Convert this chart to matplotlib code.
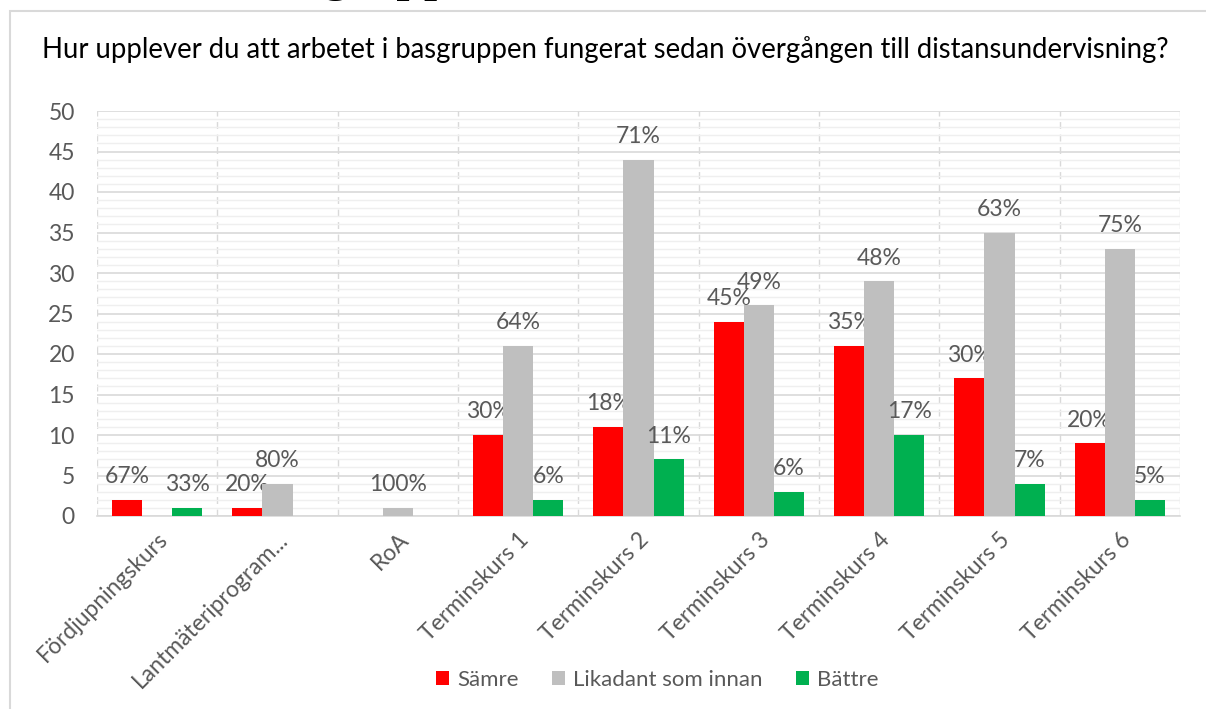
import numpy as np
import matplotlib.pyplot as plt
from matplotlib.patches import Rectangle

categories = ['Fördjupningskurs', 'Lantmäteriprogram...', 'RoA', 'Terminskurs 1',
              'Terminskurs 2', 'Terminskurs 3', 'Terminskurs 4', 'Terminskurs 5',
              'Terminskurs 6']
samre = [2, 1, 0, 10, 11, 24, 21, 17, 9]
likadant = [0, 4, 1, 21, 44, 26, 29, 35, 33]
battre = [1, 0, 0, 2, 7, 3, 10, 4, 2]
series_names = ['Sämre', 'Likadant som innan', 'Bättre']
colors = ['#FF0000', '#BFBFBF', '#00B050']

title = 'Hur upplever du att arbetet i basgruppen fungerat sedan övergången till distansundervisning?'

plt.rcParams['font.family'] = ['Lato', 'DejaVu Sans']
txt = '#595959'

W, H = 1206, 709
fig = plt.figure(figsize=(W / 100, H / 100), dpi=100)
ax = fig.add_axes([97 / W, 1 - 516 / H, (1180 - 97) / W, (516 - 111) / H])

# document heading, mostly cut off above the chart frame
hdr = fig.text(0, 1 + 11 / H, 'Arbetet i basgruppen', fontfamily='Liberation Serif',
               fontsize=40, va='baseline', ha='left', color='black')
r = fig.canvas.get_renderer()
pre = fig.text(0, 0, 'Arbetet i bas', fontfamily='Liberation Serif', fontsize=40)
w = pre.get_window_extent(r).width
pre.remove()
hdr.set_x((322 - w) / W)

# chart frame (only left and top edges visible)
fig.patches.append(Rectangle((10 / W, -0.2), 1.5, 1 - 11 / H + 0.2, transform=fig.transFigure,
                             fill=False, edgecolor='#d9d9d9', lw=1.5))

x = np.arange(len(categories))
data = np.array([samre, likadant, battre])
totals = data.sum(axis=0)
bw = 0.25
for i, (vals, name, c) in enumerate(zip(data, series_names, colors)):
    pos = x + (i - 1) * bw
    ax.bar(pos, vals, width=bw, color=c, label=name, zorder=3)
    for xp, v, t in zip(pos, vals, totals):
        if v > 0:
            pct = int(np.floor(100 * v / t + 0.5))
            ax.annotate(f'{pct}%', (xp, v), xytext=(0, 9),
                        textcoords='offset points', ha='center', va='bottom',
                        fontsize=16.5, color=txt)

ax.set_xlim(-0.5, len(categories) - 0.5)
ax.set_ylim(0, 50)
ax.set_yticks(np.arange(0, 51, 5))
ax.set_yticks(np.arange(0, 51, 1), minor=True)
ax.set_xticks(x)
ax.set_xticks(np.arange(-0.5, len(categories), 1), minor=True)
ax.set_xticklabels(categories, rotation=45, ha='right', rotation_mode='anchor',
                   fontsize=16.5, color=txt)
ax.tick_params(axis='y', labelsize=16.5, labelcolor=txt, length=0, pad=16)
ax.tick_params(axis='x', length=0, pad=9)
ax.tick_params(which='minor', length=0)

ax.grid(axis='y', which='major', color='#d9d9d9', lw=1.2, zorder=0)
ax.grid(axis='y', which='minor', color='#efefef', lw=1.0, zorder=0)
ax.grid(axis='x', which='minor', color='#d9d9d9', lw=1.0, ls=(0, (5, 4)), zorder=0)
ax.grid(axis='x', which='major', visible=False)
for s in ['top', 'right', 'left']:
    ax.spines[s].set_visible(False)
ax.spines['bottom'].set_color('#d9d9d9')
ax.spines['bottom'].set_linewidth(1.2)

fig.text(605 / W, 1 - 50 / H, title, ha='center', va='center', fontsize=19.8, color='black')

fig.legend(loc='center', bbox_to_anchor=(657 / W, 1 - 680 / H), ncol=3, frameon=False,
           fontsize=16, handlelength=0.6, handleheight=0.6, handletextpad=0.35,
           columnspacing=1.5, labelcolor=txt)

fig.savefig('out.png', dpi=100)
